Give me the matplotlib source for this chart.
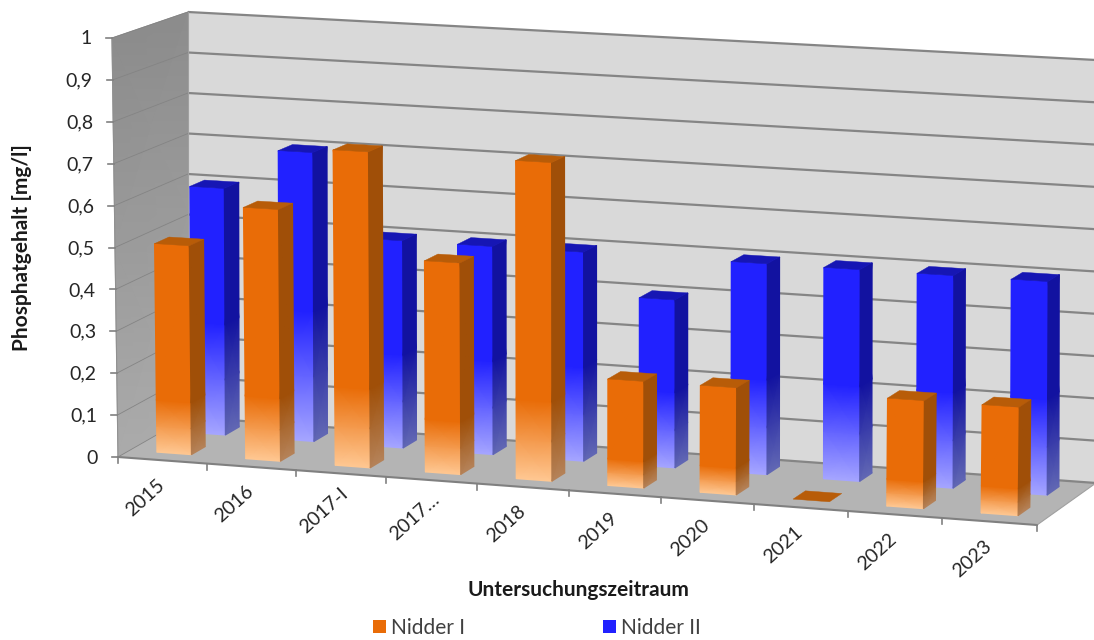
import numpy as np
import matplotlib
matplotlib.use("Agg")
import matplotlib.pyplot as plt
from matplotlib.colors import LinearSegmentedColormap
from matplotlib.patches import Polygon, Patch

# ---------- data ----------
categories = ["2015", "2016", "2017-I", "2017…", "2018", "2019", "2020", "2021", "2022", "2023"]
nidder_1 = [0.5, 0.6, 0.75, 0.5, 0.75, 0.25, 0.25, 0.0, 0.25, 0.25]
nidder_2 = [0.6, 0.7, 0.5, 0.5, 0.5, 0.4, 0.5, 0.5, 0.5, 0.5]
y_ticks = [0, 0.1, 0.2, 0.3, 0.4, 0.5, 0.6, 0.7, 0.8, 0.9, 1]
y_labels = ["0", "0,1", "0,2", "0,3", "0,4", "0,5", "0,6", "0,7", "0,8", "0,9", "1"]

# ---------- projection of the 3D box onto the picture ----------
FBL, FBR, FTL, FTR = map(np.array, [(118., 457.), (1037., 525.), (112., 38.), (1043., 88.)])
BBL, BBR, BTL, BTR = map(np.array, [(188., 417.), (1096., 483.), (188., 12.), (1096., 60.)])
N = len(categories)
PERSPECTIVE = 0.038


def proj(c, v, z):
    """category position c (0..N), value v (0..1), depth z (0..1) -> pixel x, y"""
    c, v, z = np.broadcast_arrays(np.asarray(c, float), np.asarray(v, float), np.asarray(z, float))
    u = c / N
    u = (u - PERSPECTIVE * u * (1 - u))[..., None]
    v = v[..., None]
    z = z[..., None]
    fb = FBL + (FBR - FBL) * u
    ft = FTL + (FTR - FTL) * u
    bb = BBL + (BBR - BBL) * u
    bt = BTL + (BTR - BTL) * u
    f = fb + (ft - fb) * v
    b = bb + (bt - bb) * v
    p = f + (b - f) * z
    return p[..., 0], p[..., 1]


plt.rcParams["font.family"] = ["Lato", "DejaVu Sans"]
fig = plt.figure(figsize=(10.94, 6.40), dpi=100)
ax = fig.add_axes([0, 0, 1, 1])
ax.set_xlim(0, 1094)
ax.set_ylim(640, 0)
ax.axis("off")


def poly(cs, vs, zs, color, zorder=1, lw=0.0):
    x, y = proj(cs, vs, zs)
    ax.add_patch(Polygon(np.c_[x, y], closed=True, fc=color, ec=color, lw=lw, zorder=zorder))


def shaded(cs, vs, zs, c_fracs, cmap, zorder):
    x, y = proj(cs, vs, zs)
    ax.pcolormesh(x, y, c_fracs, shading="gouraud", cmap=cmap, vmin=0, vmax=1, zorder=zorder)


# ---------- walls and floor ----------
poly([0, N, N, 0], [0, 0, 1, 1], [1, 1, 1, 1], "#D9D9D9", 1)
wall_cmap = LinearSegmentedColormap.from_list("wall", ["#ABABAB", "#8C8C8C"])
vv, zz = np.meshgrid([0, 0.5, 1], [0, 1])
shaded(np.zeros_like(vv), vv, zz, vv, wall_cmap, 1)
poly([0, N, N, 0], [0, 0, 0, 0], [0, 0, 1, 1], "#B4B4B4", 2)

for t in y_ticks:
    x, y = proj([0, N], [t, t], [1, 1])
    ax.plot(x, y, color="#858585", lw=1.6, zorder=3, solid_capstyle="butt")
    x, y = proj([0, 0], [t, t], [0, 1])
    ax.plot(x, y, color="#848484", lw=0.6, zorder=3)
x, y = proj([0, 0], [0, 1], [1, 1])
ax.plot(x, y, color="#A0A0A0", lw=0.8, zorder=3)

# axis lines and ticks
x, y = proj([0, N], [0, 0], [0, 0])
ax.plot(x, y, color="#808080", lw=1.5, zorder=4)
x, y = proj([N, N], [0, 0], [0, 1])
ax.plot(x, y, color="#A0A0A0", lw=0.8, zorder=4)
x, y = proj([0, 0], [0, 1], [0, 0])
ax.plot(x, y, color="#909090", lw=0.8, zorder=4)
for i in range(N + 1):
    x, y = proj(i, 0, 0)
    ax.plot([x, x], [y, y + 6], color="#808080", lw=1.2, zorder=4)
for t, lab in zip(y_ticks, y_labels):
    x, y = proj(0, t, 0)
    ax.plot([x - 6, x], [y, y], color="#808080", lw=1.2, zorder=4)
    ax.text(x - 20, y + 1, lab, ha="right", va="center", fontsize=14, color="#262626", zorder=5)

# ---------- bars ----------
def grad(name, light, solid, fade):
    return LinearSegmentedColormap.from_list(name, [(0, light), (fade, solid), (1, solid)])


def bar(c, val, z0, z1, w, fade, front_cm, side_cm, top_col, zorder):
    c0, c1 = c - w / 2, c + w / 2
    if val > 0:
        fr = np.array([0, fade / 2, fade, 1.0])
        C, F = np.meshgrid([c0, c1], fr)
        shaded(C, F * val, np.full_like(C, z0), F, front_cm, zorder)
        Z, F2 = np.meshgrid([z0, z1], fr)
        shaded(np.full_like(Z, c1), F2 * val, Z, F2, side_cm, zorder)
    poly([c0, c1, c1, c0], [val] * 4, [z0, z0, z1, z1], top_col, zorder, 0.3)


F_BLUE, F_ORANGE = 0.45, 0.25
blue_f = grad("bf", "#A6A6FF", "#2121FF", F_BLUE)
blue_s = grad("bs", "#6268B4", "#1212A0", F_BLUE)
orange_f = grad("of", "#FFC893", "#E96C07", F_ORANGE)
orange_s = grad("os", "#B5835A", "#A04F08", F_ORANGE)

for i, val in enumerate(nidder_2):
    bar(i + 0.5, val, 0.66, 0.86, 0.39, F_BLUE, blue_f, blue_s, "#1616B4", 6 + i * 0.01)
for i, val in enumerate(nidder_1):
    bar(i + 0.5, val, 0.17, 0.37, 0.39, F_ORANGE, orange_f, orange_s, "#B85C08", 7 + i * 0.01)

# ---------- texts ----------
for i, lab in enumerate(categories):
    x, y = proj(i + 0.5, 0, 0)
    ax.text(x - 17, y + 37, lab, rotation=42, ha="center", va="center", fontsize=14,
            color="#262626", rotation_mode="anchor")

ax.text(22, 248, "Phosphatgehalt [mg/l]", rotation=90, ha="center", va="center",
        fontsize=15, fontweight="bold", color="#1a1a1a")
ax.text(578, 590, "Untersuchungszeitraum", ha="center", va="center",
        fontsize=15, fontweight="bold", color="#1a1a1a")

ax.legend(handles=[Patch(fc="#E96C07", label="Nidder I"), Patch(fc="#2121FF", label="Nidder II")],
          ncol=2, loc="center", bbox_to_anchor=(537, 628), bbox_transform=ax.transData,
          frameon=False, fontsize=15, handlelength=0.62, handleheight=0.62,
          handletextpad=0.25, columnspacing=6.6, labelcolor="#404040", borderpad=0)

fig.savefig("out.png", dpi=100, facecolor="white")
